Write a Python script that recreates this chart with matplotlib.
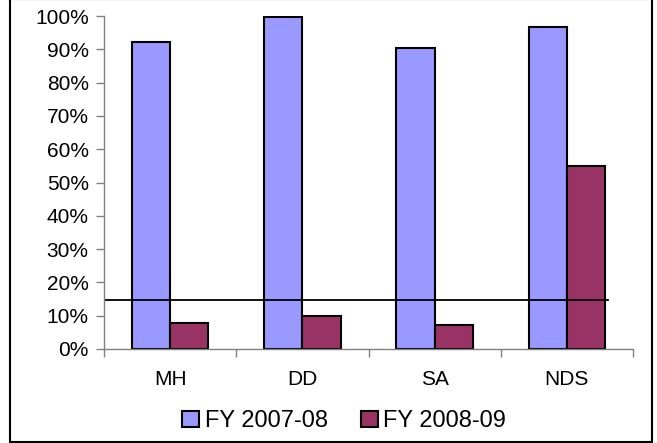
import matplotlib
matplotlib.use("Agg")
import matplotlib.pyplot as plt
from matplotlib.patches import Rectangle
import numpy as np

categories = ["MH", "DD", "SA", "NDS"]
fy0708 = [92.2, 99.7, 90.5, 96.8]
fy0809 = [7.7, 9.9, 7.2, 55.0]
series_names = ["FY 2007-08", "FY 2008-09"]
ref_value = 14.7
yticks = [0, 10, 20, 30, 40, 50, 60, 70, 80, 90, 100]

plt.rcParams['font.family'] = ['Liberation Sans', 'DejaVu Sans']

fig = plt.figure(figsize=(6.57, 4.43), dpi=100)
ax = fig.add_axes([104/657, 1-349/443, (633-104)/657, (349-16)/443])

x = np.arange(len(categories))
w = 0.29
b1 = ax.bar(x - w/2, fy0708, w, color="#9999FF", edgecolor="black", linewidth=1.5, label=series_names[0], zorder=2)
b2 = ax.bar(x + w/2, fy0809, w, color="#993366", edgecolor="black", linewidth=1.5, label=series_names[1], zorder=2)

ax.plot([-0.485, 3.31], [ref_value, ref_value], color="black", linewidth=1.3, zorder=3)

ax.set_xlim(-0.5, 3.5)
ax.set_ylim(0, 100)
ax.set_yticks(yticks)
ax.set_yticklabels([f"{v}%" for v in yticks])
ax.set_xticks(x)
ax.set_xticklabels(categories)
ax.set_xticks(np.arange(-0.5, 4.0, 1.0), minor=True)
ax.tick_params(axis='x', which='major', length=0, pad=15, labelsize=15)
ax.tick_params(axis='x', which='minor', length=6, width=1, color="#808080", direction='out')
ax.tick_params(axis='y', length=6, width=1, color="#808080", direction='out', labelsize=15, pad=5)

for s in ['top', 'right']:
    ax.spines[s].set_visible(False)
for s in ['left', 'bottom']:
    ax.spines[s].set_color("#808080")
    ax.spines[s].set_linewidth(1)

leg = fig.legend(handles=[b1, b2], labels=series_names, loc='center', bbox_to_anchor=(344/657, 1-421/443),
                 ncol=2, frameon=False, fontsize=17, handlelength=0.72, handleheight=0.64,
                 handletextpad=0.25, columnspacing=1.4, borderpad=0)

fig.patches.append(Rectangle((10/657, 1/443), (652-10)/657, 1.0, transform=fig.transFigure,
                             fill=False, edgecolor="black", linewidth=1.5, clip_on=False))

fig.savefig("out.png", dpi=100)
